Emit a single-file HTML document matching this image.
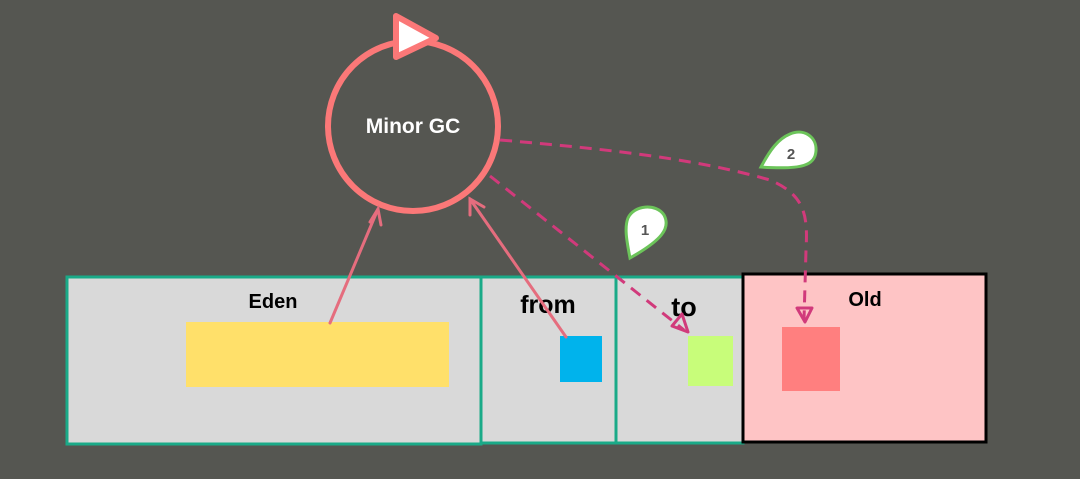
<!DOCTYPE html>
<html><head><meta charset="utf-8"><style>
html,body{margin:0;padding:0;background:#555651;}
svg{display:block}
text{font-family:"Liberation Sans",sans-serif;}
</style></head><body>
<svg width="1080" height="479" viewBox="0 0 1080 479" xmlns="http://www.w3.org/2000/svg">
<rect width="1080" height="479" fill="#555651"/>
<circle cx="413" cy="126" r="85" fill="none" stroke="#fb7878" stroke-width="6"/>
<polygon points="396,16 396,57 436,38" fill="#fff" stroke="#fb7878" stroke-width="6" stroke-linejoin="round"/>
<text x="413" y="133" font-size="21" font-weight="bold" fill="#fff" text-anchor="middle">Minor GC</text>
<rect x="67" y="277" width="414" height="167" fill="#d9d9d9" stroke="#1aaa88" stroke-width="3"/>
<rect x="481" y="277" width="135" height="166" fill="#d9d9d9" stroke="#1aaa88" stroke-width="3"/>
<rect x="616" y="277" width="127" height="166" fill="#d9d9d9" stroke="#1aaa88" stroke-width="3"/>
<rect x="743" y="274" width="243" height="168" fill="#fec4c5" stroke="#000" stroke-width="3"/>
<text x="273" y="308" font-size="20" font-weight="bold" fill="#000" text-anchor="middle">Eden</text>
<text x="548" y="313" font-size="25" font-weight="bold" fill="#000" text-anchor="middle">from</text>
<text x="684" y="316" font-size="27" font-weight="bold" fill="#000" text-anchor="middle">to</text>
<text x="865" y="306" font-size="20" font-weight="bold" fill="#000" text-anchor="middle">Old</text>
<rect x="186" y="322" width="263" height="65" fill="#ffe06a"/>
<rect x="560" y="336" width="42" height="46" fill="#00b3ec"/>
<rect x="688" y="336" width="45" height="50" fill="#c8fd7a"/>
<rect x="782" y="327" width="58" height="64" fill="#ff7f7f"/>
<g stroke="#e56d7e" stroke-width="3" fill="none" stroke-linecap="round">
<line x1="330" y1="323" x2="378" y2="209"/>
<polyline points="370,222 378,209 381,225"/>
<line x1="566" y1="337" x2="470" y2="199"/>
<polyline points="470,215 470,199 484,207"/>
</g>
<g stroke="#d13a7b" stroke-width="3" fill="none" stroke-dasharray="12,8">
<path d="M490 176 L684 330"/>
<path d="M500 140 C620 150 700 160 770 180 C805 195 808 215 806 250 L804 320"/>
</g>
<g stroke="#d13a7b" stroke-width="3" fill="none" stroke-linejoin="round">
<polygon points="688,332 672,326 682,314"/>
<polygon points="805,322 797,308 812,308"/>
</g>
<g stroke="#6cc45a" stroke-width="3" fill="#fff">
<path d="M630 258 C627 242 624 228 628 218 C634 205 656 203 664 215 C671 228 662 240 630 258 Z"/>
<path d="M761 167 C770 150 778 139 790 134 C804 128 817 137 816 151 C815 165 803 170 761 167 Z"/>
</g>
<text x="645" y="235" font-size="15" font-weight="bold" fill="#555" text-anchor="middle">1</text>
<text x="791" y="159" font-size="15" font-weight="bold" fill="#555" text-anchor="middle">2</text>
</svg>
</body></html>
